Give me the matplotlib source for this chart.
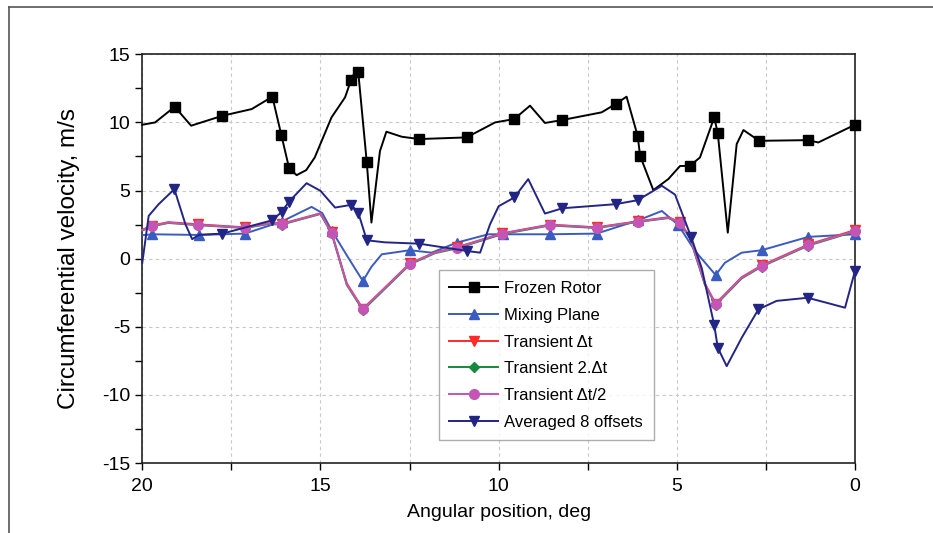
import numpy as np
import matplotlib
matplotlib.use('Agg')
import matplotlib.pyplot as plt
from matplotlib.lines import Line2D
from matplotlib.ticker import MultipleLocator

plt.rcParams['font.family'] = ['Liberation Sans', 'DejaVu Sans']
plt.rcParams['axes.unicode_minus'] = False

# each series: angle (deg), velocity (m/s), 1 where a marker is drawn
fr_x = [20.0, 19.64, 19.09, 18.63, 17.75, 16.93, 16.35, 16.1, 15.88, 15.67, 15.4, 15.16, 14.69, 14.31,
        14.14, 14.0, 13.94, 13.7, 13.57, 13.33, 13.15, 12.72, 12.23, 10.9, 10.1, 9.56, 9.12, 8.7,
        8.21, 7.11, 6.72, 6.41, 6.1, 6.03, 5.66, 5.24, 4.91, 4.63, 4.35, 3.95, 3.85, 3.57, 3.32,
        3.13, 2.69, 1.33, 1.03, 0.0]
fr_y = [9.83, 10.0, 11.15, 9.76, 10.49, 10.98, 11.89, 9.1, 6.64, 6.13, 6.5, 7.43, 10.37, 11.84,
        13.12, 13.9, 13.7, 7.06, 2.65, 7.9, 9.32, 8.95, 8.78, 8.9, 10.0, 10.25, 11.23, 9.96,
        10.18, 10.74, 11.35, 11.89, 9.02, 7.55, 5.03, 5.84, 6.8, 6.82, 7.43, 10.37, 9.19, 1.91, 8.41,
        9.44, 8.65, 8.7, 8.53, 9.83]
fr_m = [0, 0, 1, 0, 1, 0, 1, 1, 1, 0, 0, 0, 0, 0,
        1, 0, 1, 1, 0, 0, 0, 0, 1, 1, 0, 1, 0, 0,
        1, 0, 1, 0, 1, 1, 0, 0, 0, 1, 0, 1, 1, 0, 0,
        0, 1, 1, 0, 1]

mp_x = [20.0, 19.72, 18.41, 17.12, 16.09, 15.25, 14.95, 14.68, 14.22, 13.81, 13.57, 13.28, 12.49,
        11.88, 11.17, 10.29, 9.87, 8.56, 7.25, 6.08, 5.42, 4.96, 4.49, 3.91, 3.65, 3.18, 2.62,
        1.31, 0.0]
mp_y = [1.72, 1.79, 1.74, 1.84, 2.72, 3.8, 3.35, 2.04, 0.07, -1.64, -0.6, 0.32, 0.62,
        0.44, 1.18, 1.79, 1.79, 1.79, 1.84, 2.82, 3.5, 2.48, 0.57, -1.2, -0.3, 0.44, 0.62,
        1.6, 1.79]
mp_m = [0, 1, 1, 1, 1, 0, 0, 1, 0, 1, 0, 0, 1,
        0, 1, 0, 1, 1, 1, 1, 0, 1, 0, 1, 0, 0, 1,
        1, 1]

tr_x = [20.0, 19.72, 19.27, 18.43, 17.12, 16.46, 16.09, 15.0, 14.69, 14.26, 13.81, 13.28, 12.49,
        11.79, 11.17, 9.9, 8.56, 7.25, 6.08, 5.24, 4.91, 4.63, 4.21, 3.91, 3.18, 2.62, 1.31, 0.0]
tr_m = [0, 1, 0, 1, 1, 0, 1, 0, 1, 0, 1, 0, 1,
        0, 1, 1, 1, 1, 1, 0, 1, 0, 0, 1, 0, 1, 1, 1]
t1_y = [2.12, 2.43, 2.68, 2.52, 2.3, 2.6, 2.56, 3.33, 1.95, -1.82, -3.68, -2.35, -0.34,
        0.46, 0.84, 1.86, 2.5, 2.3, 2.75, 3.04, 2.68, 1.58, -1.84, -3.3, -1.36, -0.5, 1.04, 2.1]
t2_y = [2.06, 2.38, 2.62, 2.46, 2.25, 2.54, 2.5, 3.28, 1.88, -1.93, -3.78, -2.44, -0.42,
        0.4, 0.76, 1.8, 2.44, 2.25, 2.7, 2.98, 2.62, 1.5, -1.93, -3.4, -1.45, -0.58, 0.96, 2.0]
t3_y = [2.09, 2.4, 2.65, 2.48, 2.28, 2.57, 2.53, 3.31, 1.91, -1.88, -3.72, -2.38, -0.37,
        0.44, 0.81, 1.84, 2.48, 2.28, 2.72, 3.01, 2.65, 1.54, -1.88, -3.35, -1.4, -0.54, 1.0, 2.04]

av_x = [20.0, 19.82, 19.54, 19.1, 18.79, 18.6, 18.41, 17.75, 16.35, 16.09, 15.88, 15.39, 15.0,
        14.59, 14.14, 13.94, 13.7, 13.2, 12.23, 10.9, 10.52, 10.24, 10.0, 9.56, 9.17, 8.7, 8.21,
        6.72, 6.1, 5.42, 5.05, 4.6, 4.3, 3.95, 3.85, 3.6, 3.18, 2.71, 2.2, 1.33, 0.85, 0.28, 0.0]
av_y = [-0.3, 3.14, 4.0, 5.1, 2.53, 1.43, 1.75, 1.84, 2.82, 3.43, 4.19, 5.54, 4.98,
        3.75, 3.95, 3.38, 1.35, 1.2, 1.1, 0.57, 0.44, 2.53, 3.85, 4.49, 5.84, 3.31, 3.7,
        4.0, 4.29, 5.35, 4.7, 1.6, -0.7, -4.88, -6.54, -7.89, -5.81, -3.72, -3.1, -2.87, -3.2, -3.6, -0.9]
av_m = [0, 0, 0, 1, 0, 0, 0, 1, 1, 1, 1, 0, 0,
        0, 1, 1, 1, 0, 1, 1, 0, 0, 0, 1, 0, 0, 1,
        1, 1, 0, 0, 1, 0, 1, 1, 0, 0, 1, 0, 1, 0, 0, 1]

series = [
    ('Frozen Rotor', fr_x, fr_y, fr_m, '#000000', 's', 6.5),
    ('Mixing Plane', mp_x, mp_y, mp_m, '#3a5bbf', '^', 7.5),
    ('Transient \u0394t', tr_x, t1_y, tr_m, '#ff2a2a', 'v', 7.5),
    ('Transient 2.\u0394t', tr_x, t2_y, tr_m, '#168a3a', 'D', 5.5),
    ('Transient \u0394t/2', tr_x, t3_y, tr_m, '#c455b4', 'o', 7),
    ('Averaged 8 offsets', av_x, av_y, av_m, '#232585', 'v', 7.5),
]

fig = plt.figure(figsize=(9.33, 5.33), dpi=100)
ax = fig.add_axes([0.1525, 0.1313, 0.7639, 0.7668])

handles = []
for name, xs, ys, ms, col, mk, sz in series:
    idx = [i for i, m in enumerate(ms) if m]
    ax.plot(xs, ys, color=col, lw=1.4, marker=mk, ms=sz, markevery=idx,
            mfc=col, mec=col, clip_on=False, zorder=3)
    handles.append(Line2D([], [], color=col, lw=1.4, marker=mk, ms=sz, mfc=col, mec=col))

ax.set_xlim(20, 0)
ax.set_ylim(-15, 15)
ax.xaxis.set_major_locator(MultipleLocator(5))
ax.xaxis.set_minor_locator(MultipleLocator(2.5))
ax.yaxis.set_major_locator(MultipleLocator(5))
ax.yaxis.set_minor_locator(MultipleLocator(2.5))
ax.tick_params(which='both', direction='out', length=5, width=1, labelsize=14,
               top=False, right=False)
ax.tick_params(axis='x', pad=6)
ax.grid(True, axis='x', which='both', ls=(0, (3, 3)), color='#c8c8c8', lw=0.8)
ax.grid(True, axis='y', which='major', ls=(0, (3, 3)), color='#c8c8c8', lw=0.8)
ax.set_axisbelow(True)
for s in ax.spines.values():
    s.set_linewidth(1.2)
    s.set_color('#222222')

ax.set_xlabel('Angular position, deg', fontsize=14, labelpad=6)
ax.set_ylabel('Circumferential velocity, m/s', fontsize=17.5, labelpad=16)

leg = ax.legend(handles, [s[0] for s in series], loc='lower left',
                bbox_to_anchor=(0.404, 0.035), fontsize=12, handlelength=2.9,
                frameon=True, fancybox=False, borderpad=0.65, labelspacing=0.7,
                handletextpad=0.4)
leg.get_frame().set_edgecolor('#999999')
leg.get_frame().set_linewidth(1.0)

# outer frame of the source figure
fig.add_artist(Line2D([9 / 933, 1], [1 - 7 / 533, 1 - 7 / 533], color='#555555', lw=1.2))
fig.add_artist(Line2D([9 / 933, 9 / 933], [0, 1 - 7 / 533], color='#555555', lw=1.2))

fig.savefig('out.png', dpi=100)
